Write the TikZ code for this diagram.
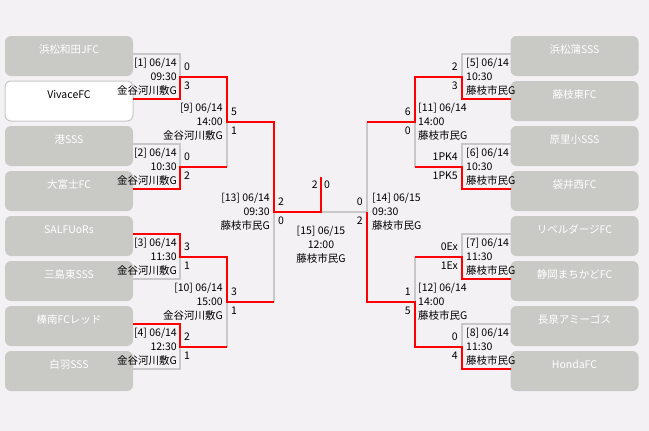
\documentclass[tikz,border=0pt]{standalone}
\usepackage{fontspec}
\setmainfont{Noto Sans CJK JP}
\usetikzlibrary{calc}
\definecolor{nen}{HTML}{F3F1F4}
\definecolor{xam}{HTML}{C9CAC6}
\definecolor{vien}{HTML}{C8C8C8}
\newcommand{\drawg}{\draw[line width=2pt, vien]}
\newcommand{\drawr}{\draw[line width=2pt, red]}
\tikzset{
  doi/.style={rounded corners=6pt, fill=xam, text=white, minimum width=128pt, minimum height=40pt, text height=9pt, text depth=15pt, inner sep=0pt, outer sep=0pt},
  doitrang/.style={doi, fill=white, draw=vien, line width=1pt, text=black},
  trai/.style={anchor=east, align=right, inner sep=0pt},
  phai/.style={anchor=west, align=left, inner sep=0pt},
  diem/.style={anchor=west, inner sep=0pt},
  diemp/.style={anchor=east, inner sep=0pt}
}

\begin{document}
\begin{tikzpicture}[x=1pt, y=-1pt, font=\fontsize{10.5}{14}\selectfont]
% Nền
\fill[nen] (0,0) rectangle (649,431);

% Các đội bên trái
\node[doi] (L1) at (69,56) {浜松和田JFC};
\node[doitrang] (L2) at (69,101) {VivaceFC};
\node[doi] (L3) at (69,146) {港SSS};
\node[doi] (L4) at (69,191) {大富士FC};
\node[doi] (L5) at (69,236) {SALFUoRs};
\node[doi] (L6) at (69,281) {三島東SSS};
\node[doi] (L7) at (69,326) {榛南FCレッド};
\node[doi] (L8) at (69,371) {白羽SSS};

% Các đội bên phải
\node[doi] (R1) at (574.5,56) {浜松蒲SSS};
\node[doi] (R2) at (574.5,101) {藤枝東FC};
\node[doi] (R3) at (574.5,146) {原里小SSS};
\node[doi] (R4) at (574.5,191) {袋井西FC};
\node[doi] (R5) at (574.5,236) {リベルダージFC};
\node[doi] (R6) at (574.5,281) {静岡まちかどFC};
\node[doi] (R7) at (574.5,326) {長泉アミーゴス};
\node[doi] (R8) at (574.5,371) {HondaFC};

% Điểm giữa các trận
\coordinate (m1) at (180,76.5);
\coordinate (m2) at (180,166.5);
\coordinate (m3) at (180,256.5);
\coordinate (m4) at (180,346.5);
\coordinate (m5) at (462,76.5);
\coordinate (m6) at (462,166.5);
\coordinate (m7) at (462,256.5);
\coordinate (m8) at (462,346.5);
\coordinate (m9) at (227,121.5);
\coordinate (m10) at (227,301.5);
\coordinate (m11) at (415,121.5);
\coordinate (m12) at (415,301.5);
\coordinate (m13) at (274,211.5);
\coordinate (m14) at (367,211.5);
\coordinate (fm) at (321,211.5);
\coordinate (ft) at (321,177);

% Đường thua
\drawg ([yshift=2pt]L1.east) -| (m1);
\drawg ([yshift=2pt]L3.east) -| (m2);
\drawg ([yshift=2pt]L6.east) -| (m3);
\drawg ([yshift=2pt]L8.east) -| (m4);
\drawg (m2 -| m9) -- (m9);
\drawg (m4 -| m10) -- (m10);
\drawg (m10 -| m13) -- (m13);
\drawg ([yshift=2pt]R1.west) -| (m5);
\drawg ([yshift=2pt]R3.west) -| (m6);
\drawg ([yshift=2pt]R5.west) -| (m7);
\drawg ([yshift=2pt]R7.west) -| (m8);
\drawg (m6 -| m11) -- (m11);
\drawg (m7 -| m12) -- (m12);
\drawg (m11 -| m14) -- (m14) -- (fm);

% Đường thắng
\drawr ([yshift=2pt]L2.east) -| (m1) -- (m1 -| m9) -- (m9) -- (m9 -| m13) -- (m13) -- (fm) -- (ft);
\drawr ([yshift=2pt]L4.east) -| (m2) -- (m2 -| m9);
\drawr ([yshift=2pt]L5.east) -| (m3) -- (m3 -| m10) -- (m10) -- (m10 -| m13);
\drawr ([yshift=2pt]L7.east) -| (m4) -- (m4 -| m10);
\drawr ([yshift=2pt]R2.west) -| (m5) -- (m5 -| m11) -- (m11) -- (m11 -| m14);
\drawr ([yshift=2pt]R4.west) -| (m6) -- (m6 -| m11);
\drawr ([yshift=2pt]R6.west) -| (m7) -- (m7 -| m12);
\drawr ([yshift=2pt]R8.west) -| (m8) -- (m8 -| m12) -- (m12) -- (m12 -| m14) -- (m14);

% Thông tin trận bên trái
\node[trai] (t1) at ($(m1)+(-3,0)$) {[1] 06/14\\09:30\\金谷河川敷G};
\node[trai] (t2) at ($(m2)+(-3,0)$) {[2] 06/14\\10:30\\金谷河川敷G};
\node[trai] (t3) at ($(m3)+(-3,0)$) {[3] 06/14\\11:30\\金谷河川敷G};
\node[trai] (t4) at ($(m4)+(-3,0)$) {[4] 06/14\\12:30\\金谷河川敷G};
\node[trai] (t9) at ($(m9)+(-4,0)$) {[9] 06/14\\14:00\\金谷河川敷G};
\node[trai] (t10) at ($(m10)+(-4,0)$) {[10] 06/14\\15:00\\金谷河川敷G};
\node[trai] (t13) at ($(m13)+(-4,0)$) {[13] 06/14\\09:30\\藤枝市民G};

% Thông tin trận bên phải
\node[phai] (t5) at ($(m5)+(4,0)$) {[5] 06/14\\10:30\\藤枝市民G};
\node[phai] (t6) at ($(m6)+(4,0)$) {[6] 06/14\\10:30\\藤枝市民G};
\node[phai] (t7) at ($(m7)+(4,0)$) {[7] 06/14\\11:30\\藤枝市民G};
\node[phai] (t8) at ($(m8)+(4,0)$) {[8] 06/14\\11:30\\藤枝市民G};
\node[phai] (t11) at ($(m11)+(3,0)$) {[11] 06/14\\14:00\\藤枝市民G};
\node[phai] (t12) at ($(m12)+(3,0)$) {[12] 06/14\\14:00\\藤枝市民G};
\node[phai] (t14) at ($(m14)+(5,0)$) {[14] 06/15\\09:30\\藤枝市民G};

% Chung kết
\node[align=center, inner sep=0pt] (t15) at ($(fm)+(0,33.5)$) {[15] 06/15\\12:00\\藤枝市民G};
\node[diemp] (sfa) at ($(ft)+(-3,8)$) {2};
\node[diem] (sfb) at ($(ft)+(3,8)$) {0};

% Tỉ số bên trái
\node[diem] (s1a) at ($(m1)+(4,-9.5)$) {0};
\node[diem] (s1b) at ($(m1)+(4,9.5)$) {3};
\node[diem] (s2a) at ($(m2)+(4,-9.5)$) {0};
\node[diem] (s2b) at ($(m2)+(4,9.5)$) {2};
\node[diem] (s3a) at ($(m3)+(4,-9.5)$) {3};
\node[diem] (s3b) at ($(m3)+(4,9.5)$) {1};
\node[diem] (s4a) at ($(m4)+(4,-9.5)$) {2};
\node[diem] (s4b) at ($(m4)+(4,9.5)$) {1};
\node[diem] (s9a) at ($(m9)+(4,-9.5)$) {5};
\node[diem] (s9b) at ($(m9)+(4,9.5)$) {1};
\node[diem] (s10a) at ($(m10)+(4,-9.5)$) {3};
\node[diem] (s10b) at ($(m10)+(4,9.5)$) {1};
\node[diem] (s13a) at ($(m13)+(4,-9.5)$) {2};
\node[diem] (s13b) at ($(m13)+(4,9.5)$) {0};

% Tỉ số bên phải
\node[diemp] (s5a) at ($(m5)+(-4,-9.5)$) {2};
\node[diemp] (s5b) at ($(m5)+(-4,9.5)$) {3};
\node[diemp] (s6a) at ($(m6)+(-4,-9.5)$) {1PK4};
\node[diemp] (s6b) at ($(m6)+(-4,9.5)$) {1PK5};
\node[diemp] (s7a) at ($(m7)+(-4,-9.5)$) {0Ex};
\node[diemp] (s7b) at ($(m7)+(-4,9.5)$) {1Ex};
\node[diemp] (s8a) at ($(m8)+(-4,-9.5)$) {0};
\node[diemp] (s8b) at ($(m8)+(-4,9.5)$) {4};
\node[diemp] (s11a) at ($(m11)+(-4,-9.5)$) {6};
\node[diemp] (s11b) at ($(m11)+(-4,9.5)$) {0};
\node[diemp] (s12a) at ($(m12)+(-4,-9.5)$) {1};
\node[diemp] (s12b) at ($(m12)+(-4,9.5)$) {5};
\node[diemp] (s14a) at ($(m14)+(-4,-9.5)$) {0};
\node[diemp] (s14b) at ($(m14)+(-4,9.5)$) {2};
\end{tikzpicture}
\end{document}
